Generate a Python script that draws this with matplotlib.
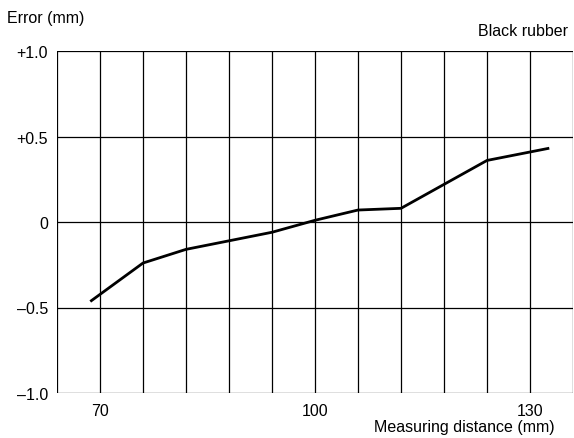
import matplotlib
matplotlib.use("Agg")
import matplotlib.pyplot as plt

# measured error curve, black rubber target
distance_mm = [68.8, 76, 82, 88, 94, 100, 106, 112, 118, 124, 132.5]
error_mm = [-0.46, -0.24, -0.16, -0.11, -0.06, 0.01, 0.07, 0.08, 0.22, 0.36, 0.43]

x_grid = list(range(64, 137, 6))
y_ticks = [-1.0, -0.5, 0, 0.5, 1.0]
y_tick_labels = ["\u20131.0", "\u20130.5", "0", "+0.5", "+1.0"]
x_ticks = [70, 100, 130]

plt.rcParams["font.family"] = ["Liberation Sans", "DejaVu Sans"]
fs = 11.5

fig = plt.figure(figsize=(5.74, 4.39), dpi=100)
ax = fig.add_axes([57 / 574, 1 - 394 / 439, (573 - 57) / 574, (394 - 52) / 439])

for x in x_grid:
    ax.axvline(x, color="black", lw=0.9, zorder=1)
for y in y_ticks:
    ax.axhline(y, color="black", lw=0.9, zorder=1)

ax.plot(distance_mm, error_mm, color="black", lw=2, zorder=3)

ax.set_xlim(64, 136)
ax.set_ylim(-1.0, 1.0)
ax.set_xticks(x_ticks)
ax.set_yticks(y_ticks)
ax.set_yticklabels(y_tick_labels)
ax.tick_params(axis="y", length=0, labelsize=fs, pad=6.5)
ax.tick_params(axis="x", length=0, labelsize=fs, pad=7)
for s in ax.spines.values():
    s.set_visible(False)

fig.text(7 / 574, 1 - 19 / 439, "Error (mm)", fontsize=fs, va="center", ha="left")
fig.text(568 / 574, 1 - 32 / 439, "Black rubber", fontsize=fs, va="center", ha="right")
fig.text(555 / 574, 1 - 428 / 439, "Measuring distance (mm)", fontsize=fs, va="center", ha="right")

fig.savefig("out.png", dpi=100)
